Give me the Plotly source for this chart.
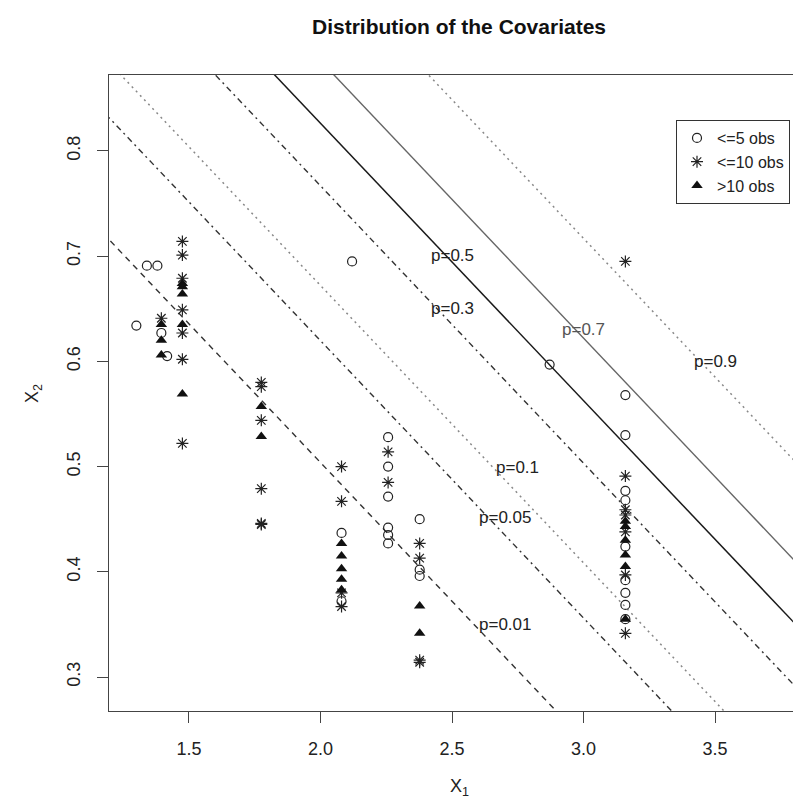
import numpy as np
import plotly.graph_objects as go

# ---------------- data ----------------
circ_x = [1.30, 1.34, 1.38, 1.395, 1.417, 2.12, 2.08, 2.08,
          2.257, 2.257, 2.257, 2.257, 2.257, 2.257,
          2.377, 2.377, 2.377, 2.871,
          3.159, 3.159, 3.159, 3.159, 3.159, 3.159, 3.159, 3.159, 3.159]
circ_y = [0.634, 0.691, 0.691, 0.627, 0.605, 0.695, 0.437, 0.372,
          0.528, 0.500, 0.4715, 0.442, 0.435, 0.427,
          0.450, 0.402, 0.396, 0.597,
          0.568, 0.530, 0.477, 0.468, 0.424, 0.392, 0.380, 0.3685, 0.355]

star_x = [1.395,
          1.475, 1.475, 1.475, 1.475, 1.475, 1.475, 1.475,
          1.775, 1.775, 1.775, 1.775, 1.775, 1.775,
          2.08, 2.08, 2.08, 2.08,
          2.257, 2.257,
          2.377, 2.377, 2.377, 2.377,
          3.159, 3.159, 3.159, 3.159, 3.159, 3.159, 3.159]
star_y = [0.641,
          0.714, 0.701, 0.679, 0.649, 0.627, 0.602, 0.522,
          0.580, 0.576, 0.544, 0.479, 0.446, 0.445,
          0.500, 0.467, 0.380, 0.367,
          0.514, 0.485,
          0.427, 0.413, 0.316, 0.314,
          0.695, 0.491, 0.459, 0.454, 0.438, 0.397, 0.3415]

tri_x = [1.395, 1.395, 1.395,
         1.475, 1.475, 1.475, 1.475, 1.475,
         1.775, 1.775,
         2.08, 2.08, 2.08, 2.08, 2.08,
         2.377, 2.377,
         3.159, 3.159, 3.159, 3.159, 3.159, 3.159]
tri_y = [0.635, 0.620, 0.606,
         0.674, 0.671, 0.664, 0.635, 0.569,
         0.557, 0.5285,
         0.427, 0.415, 0.403, 0.393, 0.383,
         0.3675, 0.3415,
         0.448, 0.443, 0.430, 0.416, 0.405, 0.355]

# logistic model: logit(p) = a + b*X1 + c*X2
coef_a, coef_b, coef_c = -19.289, 3.757, 14.25
p_levels = [0.01, 0.05, 0.1, 0.3, 0.5, 0.7, 0.9]
p_label_x = [2.70, 2.70, 2.75, 2.50, 2.50, 3.00, 3.50]
p_label_y = [0.350, 0.452, 0.499, 0.650, 0.701, 0.630, 0.600]

x_ticks = [1.5, 2.0, 2.5, 3.0, 3.5]
y_ticks = [0.3, 0.4, 0.5, 0.6, 0.7, 0.8]

# ---------------- styles ----------------
line_styles = {
    0.01: dict(color="#333333", width=1.4, dash="6px,5px"),
    0.05: dict(color="#333333", width=1.4, dash="2px,4px,6px,4px"),
    0.1:  dict(color="#888888", width=1.5, dash="2px,4px"),
    0.3:  dict(color="#333333", width=1.4, dash="2px,4px,6px,4px"),
    0.5:  dict(color="#1a1a1a", width=1.5),
    0.7:  dict(color="#666666", width=1.4),
    0.9:  dict(color="#888888", width=1.5, dash="2px,4px"),
}

FONT = "Liberation Sans, Arial, Helvetica, sans-serif"
fig = go.Figure()

x_grid = np.linspace(1.0, 4.2, 50)
for p in p_levels:
    lg = np.log(p / (1 - p))
    yv = (lg - coef_a - coef_b * x_grid) / coef_c
    fig.add_trace(go.Scatter(x=x_grid, y=yv, mode="lines",
                             line=line_styles[p], showlegend=False,
                             hoverinfo="skip"))

fig.add_trace(go.Scatter(x=circ_x, y=circ_y, mode="markers", name="<=5 obs",
                         marker=dict(symbol="circle-open", size=9,
                                     color="#222", line=dict(width=1.2, color="#222"))))
fig.add_trace(go.Scatter(x=star_x, y=star_y, mode="markers", name="<=10 obs",
                         marker=dict(symbol="asterisk-open", size=10,
                                     color="#222", line=dict(width=1.2, color="#222"))))
fig.add_trace(go.Scatter(x=tri_x, y=tri_y, mode="markers", name=">10 obs",
                         marker=dict(symbol="triangle-up", size=10,
                                     color="#111", line=dict(width=0))))

for p, lx, ly in zip(p_levels, p_label_x, p_label_y):
    fig.add_annotation(x=lx, y=ly, text=f"p={p:g}", showarrow=False,
                       xanchor="center", yanchor="middle",
                       font=dict(family=FONT, size=17,
                                 color="#555555" if p == 0.7 else "#222222"))

# axis titles
fig.add_annotation(xref="paper", yref="paper", x=0.5, y=-0.121,
                   text="X<sub>1</sub>", showarrow=False,
                   xanchor="center", yanchor="middle",
                   font=dict(family=FONT, size=18, color="#222"))
fig.add_annotation(xref="paper", yref="paper", x=-0.1086, y=0.5,
                   text="X<sub>2</sub>", showarrow=False, textangle=-90,
                   xanchor="center", yanchor="middle",
                   font=dict(family=FONT, size=18, color="#222"))

fig.update_layout(
    width=801, height=798,
    margin=dict(l=101, r=0, t=67, b=95),
    paper_bgcolor="white", plot_bgcolor="white",
    font=dict(family=FONT, size=18, color="#222"),
    title=dict(text="<b>Distribution of the Covariates</b>",
               x=0.5, xref="paper", xanchor="center",
               y=1 - 19 / 798, yref="container", yanchor="middle",
               font=dict(family=FONT, size=21, color="#111")),
    xaxis=dict(range=[1.196, 3.857], tickvals=x_ticks,
               ticktext=[f"{v:.1f}" for v in x_ticks],
               showgrid=False, zeroline=False, showline=True,
               linecolor="#444", linewidth=1.3, mirror=True,
               ticks="outside", ticklen=11, tickwidth=1.3, tickcolor="#444",
               ticklabelstandoff=10,
               tickfont=dict(family=FONT, size=18, color="#222")),
    yaxis=dict(range=[0.2677, 0.8722], tickvals=y_ticks,
               ticktext=[f"{v:.1f}" for v in y_ticks],
               showgrid=False, zeroline=False, showline=True,
               linecolor="#444", linewidth=1.3,
               ticks="outside", ticklen=11, tickwidth=1.3, tickcolor="#444",
               tickangle=-90, ticklabelstandoff=10,
               tickfont=dict(family=FONT, size=18, color="#222")),
    legend=dict(x=(668 - 101) / 700, y=(703 - 112) / 636,
                xanchor="left", yanchor="top",
                bgcolor="white", bordercolor="#333", borderwidth=1,
                font=dict(family=FONT, size=16, color="#222"),
                itemwidth=30, tracegroupgap=0),
)

fig.write_html("out.html")
